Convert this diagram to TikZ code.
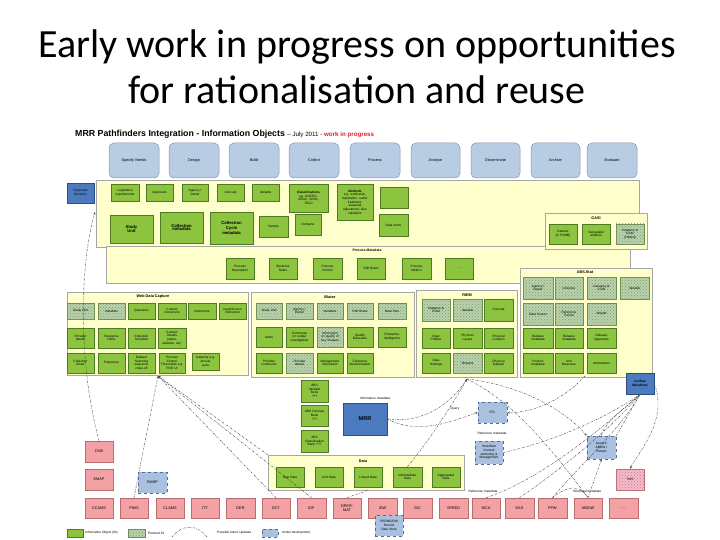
\documentclass[tikz,border=0pt]{standalone}
\usepackage{fontspec}
\setmainfont{Liberation Sans}
\newfontfamily\titlefont{Carlito}
\usetikzlibrary{arrows.meta,patterns,calc}
\definecolor{stgfill}{HTML}{B8CCE4}
\definecolor{stgdraw}{HTML}{8497B0}
\definecolor{yfill}{HTML}{FFFFCC}
\definecolor{ydraw}{HTML}{A6A6A6}
\definecolor{gfill}{HTML}{8CC43F}
\definecolor{gdraw}{HTML}{4E7A24}
\definecolor{hfill}{HTML}{B9D2AA}
\definecolor{hdraw}{HTML}{6B8F50}
\definecolor{hpat}{HTML}{7F9E7A}
\definecolor{dbfill}{HTML}{4B7BBE}
\definecolor{dbdraw}{HTML}{2B4E80}
\definecolor{lbfill}{HTML}{A9C0DE}
\definecolor{lbdraw}{HTML}{4F6E96}
\definecolor{rfill}{HTML}{F4A1A6}
\definecolor{rdraw}{HTML}{B86D6F}
\definecolor{pfill}{HTML}{F3BCCB}
\definecolor{ppat}{HTML}{D27A95}
\definecolor{con}{HTML}{4A4A4A}
\definecolor{wip}{HTML}{E0202A}
\newcommand\tf{\fontsize{3.2}{3.7}\selectfont}
\newcommand\bx[7]{%
  \pgfmathsetmacro\bxw{#5-#3}\pgfmathsetmacro\bxh{#6-#4}%
  \pgfmathsetmacro\bxt{#5-#3-1.2}%
  \pgfmathsetmacro\bxcx{(#3+#5)/2}\pgfmathsetmacro\bxcy{(#4+#6)/2}%
  \node[#1, minimum width=\bxw pt, minimum height=\bxh pt, text width=\bxt pt] (#2) at (\bxcx,\bxcy) {#7};}
\tikzset{
  base/.style={inner sep=0pt, align=center, font=\tf, line width=0.5pt},
  stg/.style={base, draw=stgdraw, fill=stgfill, rounded corners=5pt, font=\fontsize{3.8}{4.3}\selectfont},
  yreg/.style={base, draw=ydraw, fill=yfill, line width=0.6pt},
  gb/.style={base, draw=gdraw, fill=gfill, line width=0.6pt},
  hb/.style={base, draw=hdraw, fill=hfill, line width=0.6pt, postaction={pattern=crosshatch dots, pattern color=hpat}},
  db/.style={base, draw=dbdraw, fill=dbfill, line width=0.6pt},
  lb/.style={base, draw=lbdraw, fill=lbfill, dashed, line width=0.6pt},
  rb/.style={base, draw=rdraw, fill=rfill, line width=0.6pt, font=\fontsize{3.8}{4.3}\selectfont},
  pb/.style={base, draw=rdraw, fill=pfill, line width=0.6pt, postaction={pattern=crosshatch dots, pattern color=ppat}},
  rtitle/.style={inner sep=0pt, font=\fontsize{3.8}{4.3}\selectfont\bfseries},
  lab/.style={inner sep=0pt, font=\fontsize{3.2}{3.7}\selectfont},
  conn/.style={draw=con, line width=0.45pt, dash pattern=on 2pt off 1.2pt on 0.5pt off 1.2pt},
  tip/.style={-{Stealth[length=2.6pt,width=2.2pt]}}
}
\begin{document}
\begin{tikzpicture}[x=1pt,y=-1pt]
\useasboundingbox[fill=white] (0,0) rectangle (720,540);
% title
\node[anchor=base, inner sep=0pt, font=\titlefont\fontsize{40}{44}\selectfont] (t1) at (357,58) {Early work in progress on opportunities};
\node[anchor=base, inner sep=0pt, font=\titlefont\fontsize{40}{44}\selectfont] (t2) at (357,104) {for rationalisation and reuse};
% header
\node[anchor=base west, inner sep=0pt, font=\fontsize{8.8}{9.5}\selectfont\bfseries] (hdr) at (75,136.5) {MRR Pathfinders Integration - Information Objects {\mdseries\fontsize{6.2}{7}\selectfont -- July 2011 - \textcolor{wip}{\bfseries work in progress}}};
% stages
\bx{stg}{s1}{109}{143}{159}{178}{Specify Needs}
\bx{stg}{s2}{169}{143}{219}{178}{Design}
\bx{stg}{s3}{229}{143}{279}{178}{Build}
\bx{stg}{s4}{289}{143}{339}{178}{Collect}
\bx{stg}{s5}{350}{143}{400}{178}{Process}
\bx{stg}{s6}{411}{143}{460}{178}{Analyse}
\bx{stg}{s7}{471}{143}{520}{178}{Disseminate}
\bx{stg}{s8}{531}{143}{580}{178}{Archive}
\bx{stg}{s9}{587}{143}{637}{178}{Evaluate}
% regions
\bx{yreg}{rega}{96}{180}{639}{247}{}
\bx{yreg}{regb}{106}{246}{630}{283}{}
\node[lab, font=\fontsize{3.4}{4}\selectfont\bfseries] (pmlab) at (367,250) {Process Metadata};
\bx{db}{cdir}{67}{183}{94}{203}{Corporate\\Directory}
% information objects
\bx{gb}{leg}{111}{184}{139}{201}{Legislative\\requirements}
\bx{gb}{appr}{146}{184}{173}{201}{Approvals}
\bx{gb}{agen}{182}{184}{208}{201}{Agency /\\Owner}
\bx{gb}{conc}{217}{184}{244}{201}{Concept}
\bx{gb}{vari}{252}{184}{279}{201}{Variable}
\bx{gb}{clas}{289}{184}{328}{212}{\textbf{Classifications}\\eg. ANZSIC,\\ASGC, SOSL,\\TOLD}
\bx{gb}{meth}{337}{184}{373}{220}{\textbf{Methods}\\e.g. estimation,\\imputation, outlier\\treatment,\\seasonal\\adjustment, Geo\\validation}
\bx{gb}{empt}{380}{187}{408}{208}{}
\bx{gb}{ditm}{379}{214}{408}{236}{Data Items}
\bx{gb}{stu}{110}{215}{153}{243}{\fontsize{4.2}{5}\selectfont\bfseries Study\\Unit}
\bx{gb}{colm}{160}{212}{203}{243}{\fontsize{4.2}{5}\selectfont\bfseries Collection\\metadata}
\bx{gb}{colc}{210}{212}{253}{244}{\fontsize{4.2}{5}\selectfont\bfseries Collection\\Cycle\\metadata}
\bx{gb}{samp}{259}{216}{288}{237}{Sample}
\bx{gb}{doma}{295}{214}{321}{235}{Domains}
% process metadata
\bx{gb}{pdes}{226}{258}{254}{279}{Process\\Description}
\bx{gb}{brul}{269}{258}{297}{279}{Business\\Rules}
\bx{gb}{pctl}{313}{258}{342}{279}{Process\\Control}
\bx{gb}{erul}{357}{258}{385}{279}{Edit Rules}
\bx{gb}{pmet}{402}{258}{431}{279}{Process\\Metrics}
\bx{gb}{pdot}{445}{258}{473}{279}{....}
% GASI
\bx{yreg}{gasi}{545}{213}{647}{249}{}
\node[rtitle] (gasit) at (596,218.5) {GASI};
\bx{gb}{dset}{549}{224}{577}{244}{Dataset\\(in PSMB)}
\bx{gb}{geos}{582}{224}{610}{244}{Geospatial\\artifacts}
\bx{hb}{catg}{616}{224}{644}{244}{Category \&\\Code\\(Hatted)}
% Web data capture
\bx{yreg}{wdc}{67}{292}{248}{375}{}
\node[rtitle] (wdct) at (153,297) {Web Data Capture};
\bx{hb}{w1}{67}{303}{94}{319}{Study Unit}
\bx{hb}{w2}{98}{303}{125}{319}{Variables}
\bx{gb}{w3}{128}{303}{155}{319}{Questions}
\bx{gb}{w4}{158}{303}{186}{319}{Custom\\Constructs}
\bx{gb}{w5}{188}{303}{216}{319}{Instrument}
\bx{gb}{w6}{219}{303}{246}{319}{Input/Access\\Instruction}
\bx{gb}{w7}{67}{328}{94}{348}{Provider\\details}
\bx{gb}{w8}{98}{328}{125}{348}{Response\\Paths}
\bx{gb}{w9}{128}{328}{155}{348}{Collection\\Schedule}
\bx{gb}{w10}{158}{328}{186}{348}{Contact\\Details\\(name,\\address, etc)}
\bx{gb}{w11}{67}{353}{94}{373}{Collection\\Mode}
\bx{gb}{w12}{98}{353}{125}{373}{Frequency}
\bx{gb}{w13}{128}{353}{155}{373}{Dataset\\Scanning\\sequence\\close-off}
\bx{gb}{w14}{159}{353}{185}{373}{Process\\Control\\Thresholds e.g.\\FOD UI}
\bx{gb}{w15}{192}{353}{219}{370}{Capacity e.g.\\annual\\cycle}
% Blaise
\bx{yreg}{bla}{251}{292}{414}{377}{}
\node[rtitle] (blat) at (330,297) {Blaise};
\bx{hb}{b1}{256}{303}{282}{319}{Study Unit}
\bx{hb}{b2}{286}{303}{313}{319}{Agency /\\Owner}
\bx{hb}{b3}{317}{303}{343}{319}{Variables}
\bx{hb}{b4}{347}{303}{373}{319}{Edit Rules}
\bx{hb}{b5}{378}{303}{406}{319}{Data Sets}
\bx{gb}{b6}{256}{327}{282}{347}{Alerts}
\bx{gb}{b7}{286}{327}{313}{347}{Comments\\on output\\investigation}
\bx{hb}{b8}{317}{327}{343}{347}{Information\\on quality of\\Key Outputs}
\bx{gb}{b9}{347}{327}{373}{347}{Quality\\Measures}
\bx{gb}{b10}{378}{327}{406}{347}{Enterprise\\Intelligence}
\bx{gb}{b11}{256}{353}{282}{373}{Provider\\comments}
\bx{hb}{b12}{286}{353}{313}{373}{Provider\\details}
\bx{gb}{b13}{317}{353}{343}{373}{Management\\information}
\bx{gb}{b14}{347}{353}{373}{373}{Clearance\\documentation}
% RIEM
\bx{yreg}{riem}{416}{290}{517}{377}{}
\node[rtitle] (riemt) at (467,295) {RIEM};
\bx{hb}{r1}{422}{299}{450}{321}{Category \&\\Code}
\bx{hb}{r2}{453}{299}{482}{321}{Variable}
\bx{gb}{r3}{484}{299}{513}{321}{Concept}
\bx{gb}{r4}{422}{328}{450}{348}{Input\\Profiles}
\bx{gb}{r5}{453}{328}{482}{348}{Physical\\Layout}
\bx{gb}{r6}{484}{328}{513}{348}{Physical\\Location}
\bx{gb}{r7}{422}{353}{450}{373}{Data\\Holdings}
\bx{hb}{r8}{453}{353}{482}{373}{Streams}
\bx{gb}{r9}{484}{353}{513}{373}{Physical\\Dataset}
% ABS.Stat
\bx{yreg}{abss}{520}{268}{652}{377}{}
\node[rtitle] (absst) at (585,272.5) {ABS.Stat};
\bx{hb}{a1}{523}{277}{553}{299}{Agency /\\Owner}
\bx{hb}{a2}{555}{277}{583}{299}{Universe}
\bx{hb}{a3}{587}{277}{616}{299}{Category \&\\Code}
\bx{hb}{a4}{620}{277}{649}{299}{Variable}
\bx{hb}{a5}{523}{303}{553}{325}{Data Source}
\bx{hb}{a6}{555}{303}{583}{325}{Reference\\Period}
\bx{hb}{a7}{587}{303}{616}{325}{Weight}
\bx{gb}{a8}{523}{328}{553}{348}{Release\\metadata}
\bx{gb}{a9}{555}{328}{583}{348}{Release\\metadata}
\bx{gb}{a10}{587}{328}{616}{348}{Release\\Approvals}
\bx{gb}{a11}{523}{353}{553}{373}{Product\\metadata}
\bx{gb}{a12}{555}{353}{583}{373}{Unit\\Measures}
\bx{gb}{a13}{587}{353}{616}{373}{Annotations}
\bx{db}{cost}{626}{373}{654}{394}{\bfseries ColStat\\MetaStore}
% banks and MRR
\bx{gb}{vbank}{301}{380}{328}{402}{ABS\\Variable\\Bank\\???}
\bx{gb}{cbank}{301}{405}{328}{426}{ABS Concept\\Bank\\???}
\bx{gb}{clbank}{301}{430}{328}{452}{ABS\\Classification\\Bank ???}
\node[lab] (infml) at (375,398) {Information metadata};
\bx{db}{mrr}{343}{403}{387}{435}{\fontsize{5.5}{6}\selectfont\bfseries MRR}
\bx{lb}{etl}{478}{402}{507}{423}{ETL}
\node[lab] (refm1) at (492,433) {Reference metadata};
\bx{lb}{host}{475}{441}{503}{464}{Host/Web\\Content\\Authoring \&\\Management}
\bx{lb}{gen}{587}{436}{616}{459}{Generic\\ABDW /\\Extract}
\bx{pb}{tms}{616}{469}{644}{490}{TMS}
% Data
\bx{yreg}{data}{268}{455}{464}{490}{}
\node[rtitle] (datat) at (363,461) {Data};
\bx{gb}{d1}{276}{467}{304}{487}{Raw Data}
\bx{gb}{d2}{315}{467}{343}{487}{Unit Data}
\bx{gb}{d3}{354}{467}{382}{487}{Linked Data}
\bx{gb}{d4}{393}{467}{422}{487}{Intermediate\\Data}
\bx{gb}{d5}{432}{467}{460}{487}{Aggregated\\Data}
% red systems
\bx{rb}{cms}{85}{441}{113}{462}{CMS}
\bx{rb}{emap}{85}{469}{113}{490}{EMAP}
\bx{lb}{ramp}{138}{472}{167}{493}{\fontsize{3.8}{4.3}\selectfont RAMP}
\bx{rb}{ccams}{85}{498}{113}{518}{CCAMS}
\bx{rb}{pims}{120}{498}{148}{518}{PIMS}
\bx{rb}{clams}{156}{498}{184}{518}{CLAMS}
\bx{rb}{itt}{191}{498}{219}{518}{ITT}
\bx{rb}{der}{226}{498}{255}{518}{DER}
\bx{rb}{dct}{262}{498}{290}{518}{DCT}
\bx{rb}{idf}{297}{498}{326}{518}{IDF}
\bx{rb}{oper}{333}{498}{361}{518}{OPER-\\MAT}
\bx{rb}{idw}{368}{498}{397}{518}{IDW}
\bx{rb}{gic}{403}{498}{432}{518}{GIC}
\bx{rb}{speed}{439}{498}{468}{518}{SPEED}
\bx{rb}{wca}{472}{498}{500}{518}{WCA}
\bx{rb}{eas}{505}{498}{534}{518}{EAS}
\bx{rb}{ppw}{538}{498}{567}{518}{PPW}
\bx{rb}{abdiw}{574}{498}{602}{518}{ABDIW}
\bx{rb}{rdots}{609}{498}{638}{518}{....}
\bx{lb}{pedms}{375}{515}{403}{536}{PEDMS/DW\\Record\\Data Store}
% connectors
\coordinate (ca) at (95,212);
\coordinate (apx1) at (158,376);
\coordinate (apx2) at (467,379);
\coordinate (apx3) at (585,376);
\draw[conn,tip] (cms.north) .. controls (80,372) and (78,272) .. (ca);
\draw[conn,tip] (pims.north) -- (apx1);
\draw[conn,tip] (data.north west) -- (apx1);
\draw[conn,tip] (dct.north) -- (apx1);
\draw[conn,tip] (idf.north) -- (apx1);
\draw[conn,tip] (mrr.east) .. controls (425,424) and (452,402) .. (apx2);
\node[lab, fill=white, inner sep=0.3pt] (query) at (455,409) {Query};
\draw[conn,tip] (mrr.east) .. controls (420,436) and (455,420) .. (etl.west);
\draw[conn,tip] (d4.north) .. controls (430,440) and (455,400) .. (apx2);
\draw[conn,tip] (apx3) .. controls (565,398) and (535,413) .. (etl.east);
\draw[conn,tip] (apx2) .. controls (520,385) and (565,410) .. (gen.north west);
\draw[conn] (apx2) .. controls (510,400) and (545,440) .. (abdiw.north);
\draw[conn,tip] (host.east) .. controls (560,440) and (610,415) .. (cost.south);
\draw[conn] (wca.north) .. controls (540,480) and (600,430) .. (cost.south);
\draw[conn] (eas.north) .. controls (560,470) and (610,430) .. (cost.south);
\draw[conn] (ppw.north) .. controls (580,465) and (620,430) .. (cost.south);
\draw[conn] (gen.north east) -- (cost.south);
\draw[conn] (gen.north) .. controls (605,420) and (630,405) .. (cost.south);
\draw[conn,tip] (cost.east) .. controls (668,420) and (640,450) .. (tms.north);
\draw[conn,tip] (abdiw.north) -- (gen.south);
\draw[conn] (ppw.north) .. controls (565,488) and (578,482) .. (abdiw.north);
\draw[conn] (oper.north) .. controls (355,494) and (370,492) .. (d3.south);
\node[lab] (refm2) at (483,491) {Reference metadata};
\node[lab] (strm) at (587,491) {Structural metadata};
% legend
\bx{gb}{lg1}{67}{529}{83}{537}{}
\node[lab, anchor=west] (lt1) at (85,533) {Information Object (IO)};
\bx{hb}{lg2}{128}{529}{145}{537}{}
\node[lab, anchor=west] (lt2) at (148,533) {Planned IO};
\coordinate (lga) at (172,537);
\coordinate (lgb) at (207,537);
\draw[conn] (lga) .. controls (182,524) and (197,524) .. (lgb);
\node[lab, anchor=west] (lt3) at (217,533) {Possible future Updates};
\bx{lb}{lg4}{262}{529}{278}{537}{}
\node[lab, anchor=west] (lt4) at (282,533) {Under development};
\end{tikzpicture}
\end{document}
